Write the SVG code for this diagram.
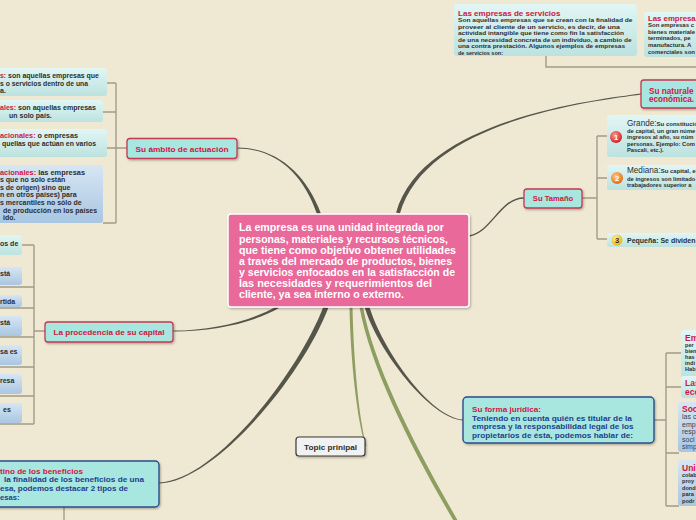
<svg xmlns="http://www.w3.org/2000/svg" width="696" height="520" viewBox="0 0 696 520">
<defs>
<linearGradient id="gc" x1="0" y1="0" x2="0" y2="1"><stop offset="0" stop-color="#e2f6f4"/><stop offset="1" stop-color="#bce2e0"/></linearGradient>
<linearGradient id="gb" x1="0" y1="0" x2="0" y2="1"><stop offset="0" stop-color="#d7e6f3"/><stop offset="1" stop-color="#a9c6e1"/></linearGradient>
<radialGradient id="i1" cx="0.4" cy="0.35" r="0.7"><stop offset="0" stop-color="#ff9a90"/><stop offset="1" stop-color="#d4141c"/></radialGradient>
<radialGradient id="i2" cx="0.4" cy="0.35" r="0.7"><stop offset="0" stop-color="#ffc98a"/><stop offset="1" stop-color="#e0670e"/></radialGradient>
<radialGradient id="i3" cx="0.4" cy="0.35" r="0.7"><stop offset="0" stop-color="#fff09a"/><stop offset="1" stop-color="#eeae00"/></radialGradient>
<filter id="sh" x="-10%" y="-20%" width="130%" height="150%"><feDropShadow dx="1" dy="1.2" stdDeviation="0.8" flood-color="#000" flood-opacity="0.3"/></filter>
</defs>
<style>
text{font-family:"Liberation Sans",Arial,sans-serif;font-weight:bold;fill:#2e2e2e}
.r{fill:#cf1541}
.b{fill:#1f3f8c}
.w{fill:#ffffff}
.n{font-weight:normal;fill:#3a4150}
.br{stroke:#a29c88;stroke-width:1.4;fill:none}
.cn{fill:#55554a}
.gr{fill:#8d9f60}
.main{fill:#a8e6e0;stroke:#c23a52;stroke-width:1.3}
.blu{fill:#a8e6e0;stroke:#2c4c8c;stroke-width:1.4}
.bc{fill:url(#gc)}
.bb{fill:url(#gb)}
</style>
<rect x="0" y="0" width="696" height="520" fill="#efe8d2"/>

<g id="connectors">
<path class="cn" d="M237,147.6 C275,147.6 305,171.4 320.9,213.4 L317.1,214.6 C303,172.6 275,148.6 237,148.6 Z"/>
<path class="cn" d="M173,330.6 C215,330.4 253,320 277,305.9 L279,308.1 C255,322 215,331.6 173,331.4 Z"/>
<path class="cn" d="M159,482.5 C215,480.3 298,373.5 323.7,306.1 L328.3,307.9 C302,376.5 215,481.7 159,483.5 Z"/>
<path class="gr" d="M349.5,307 C350.5,360 357,420 365.5,446 L366.5,446 C359,420 353.5,360 352.5,307 Z"/>
<path class="gr" d="M359.5,307 C371,372 418,462 468,545 L472,545 C423,462 375,372 363,307 Z"/>
<path class="cn" d="M463,419.6 C430,417.6 382.2,349.3 369.2,306.3 L364.8,307.7 C377.8,350.7 430,418.4 463,420.4 Z"/>
<path d="M524,198 C500,198 492,232 469,236" fill="none" stroke="#55554a" stroke-width="1.4"/>
<path class="cn" d="M641,93.5 C600,99.5 423.1,117.5 396.1,212.5 L399.9,213.5 C426.9,118.5 600,100.5 641,94.5 Z"/>
<path class="br" d="M116,83 V223 M107,83 H116 M103,112 H116 M107,148 H127 M103,223 H116"/>
<path class="br" d="M34,245 V424 M22,245 H34 M0,287 H34 M0,308 H34 M0,337 H34 M0,367 H34 M0,396 H34 M0,424 H34 M34,331 H45"/>
<path class="br" d="M64,507 V520"/>
<path class="br" d="M546,56 V67 H696"/>
<path class="br" d="M582,198 H597 M597,136 V239 M597,136 H607 M597,178 H607 M597,239 H607"/>
<path class="br" d="M654,420 H666 M666,353 V506 M666,353 H682 M666,387 H684 M666,453 H679 M666,506 H679"/>
</g>

<g id="center">
<rect x="228" y="214" width="241" height="93" rx="3" fill="#e9699a" stroke="#ffffff" stroke-width="1.5" filter="url(#sh)"/>
<text class="w" x="239" y="231" font-size="10" textLength="205" lengthAdjust="spacingAndGlyphs">La empresa es una unidad integrada por</text>
<text class="w" x="239" y="242.5" font-size="10" textLength="209" lengthAdjust="spacingAndGlyphs">personas, materiales y recursos técnicos,</text>
<text class="w" x="239" y="253.8" font-size="10" textLength="217" lengthAdjust="spacingAndGlyphs">que tiene como objetivo obtener utilidades</text>
<text class="w" x="239" y="265" font-size="10" textLength="213" lengthAdjust="spacingAndGlyphs">a través del mercado de productos, bienes</text>
<text class="w" x="239" y="276" font-size="10" textLength="216" lengthAdjust="spacingAndGlyphs">y servicios enfocados en la satisfacción de</text>
<text class="w" x="239" y="287" font-size="10" textLength="193" lengthAdjust="spacingAndGlyphs">las necesidades y requerimientos del</text>
<text class="w" x="239" y="298" font-size="10" textLength="165" lengthAdjust="spacingAndGlyphs">cliente, ya sea interno o externo.</text>
</g>

<g id="ambito">
<rect class="main" x="127" y="138.5" width="110" height="20" rx="3" filter="url(#sh)"/>
<text class="r" x="182" y="151.5" font-size="7.6" text-anchor="middle" textLength="93" lengthAdjust="spacingAndGlyphs">Su ámbito de  actuación</text>
</g>
<g id="ambito-1">
<rect class="bc" x="-6" y="68" width="113" height="28" rx="3"/>
<text x="0" y="78" font-size="7" textLength="99" lengthAdjust="spacingAndGlyphs"><tspan class="r">s:</tspan> son aquellas empresas que</text>
<text x="0" y="85.5" font-size="7" textLength="88" lengthAdjust="spacingAndGlyphs">s o servicios dentro de una</text>
<text x="0" y="92.5" font-size="7">a.</text>
</g>
<g id="ambito-2">
<rect class="bc" x="-6" y="100" width="109" height="22" rx="3"/>
<text x="0" y="109.5" font-size="7" textLength="96" lengthAdjust="spacingAndGlyphs"><tspan class="r">ales:</tspan> son aquellas empresas</text>
<text x="9" y="117.5" font-size="7">un solo país.</text>
</g>
<g id="ambito-3">
<rect class="bc" x="-6" y="129" width="113" height="28" rx="3"/>
<text x="0" y="137.5" font-size="7" textLength="78" lengthAdjust="spacingAndGlyphs"><tspan class="r">acionales:</tspan> o empresas</text>
<text x="2" y="145.5" font-size="7" textLength="94" lengthAdjust="spacingAndGlyphs">quellas que actúan en varios</text>
</g>
<g id="ambito-4">
<rect class="bb" x="-6" y="165" width="109" height="58" rx="3"/>
<text x="0" y="174.5" font-size="7" textLength="85" lengthAdjust="spacingAndGlyphs"><tspan class="r">acionales:</tspan> las empresas</text>
<text x="0" y="182" font-size="7">s que no solo están</text>
<text x="0" y="189.5" font-size="7">s de origen) sino que</text>
<text x="0" y="197" font-size="7">n en otros países) para</text>
<text x="0" y="205" font-size="7">s mercantiles no sólo de</text>
<text x="3" y="212.5" font-size="7">de producción en los países</text>
<text x="3" y="220" font-size="7">ido.</text>
</g>

<g id="procedencia">
<rect class="main" x="45" y="322" width="128" height="20" rx="3" filter="url(#sh)"/>
<text class="r" x="109" y="334.5" font-size="7.6" text-anchor="middle" textLength="111" lengthAdjust="spacingAndGlyphs">La procedencia de su capital</text>
</g>
<g id="proc-1"><rect class="bc" x="-6" y="235" width="28" height="20" rx="3"/><text x="0" y="245.5" font-size="7">os de</text></g>
<g id="proc-2"><rect class="bb" x="-6" y="267" width="28" height="18" rx="3"/><text x="0" y="275.5" font-size="7">stá</text></g>
<g id="proc-3"><rect class="bb" x="-6" y="295" width="28" height="12" rx="3"/><text x="0" y="304" font-size="7">rtida</text></g>
<g id="proc-4"><rect class="bb" x="-6" y="316" width="28" height="20" rx="3"/><text x="0" y="325" font-size="7">stá</text></g>
<g id="proc-5"><rect class="bb" x="-6" y="345" width="28" height="20" rx="3"/><text x="0" y="354" font-size="7">sa es</text></g>
<g id="proc-6"><rect class="bb" x="-6" y="374" width="28" height="20" rx="3"/><text x="0" y="383" font-size="7">resa</text></g>
<g id="proc-7"><rect class="bb" x="-6" y="403" width="28" height="20" rx="3"/><text x="3" y="411.5" font-size="7">es</text></g>

<g id="destino">
<rect class="blu" x="-6" y="461" width="165" height="46" rx="4" filter="url(#sh)"/>
<text class="r" x="0" y="473.5" font-size="7.6" textLength="83" lengthAdjust="spacingAndGlyphs">tino de los beneficios</text>
<text class="b" x="4" y="482" font-size="7.6" textLength="140" lengthAdjust="spacingAndGlyphs">la finalidad de los beneficios de una</text>
<text class="b" x="0" y="490.7" font-size="7.6" textLength="128" lengthAdjust="spacingAndGlyphs">esa, podemos destacar 2 tipos de</text>
<text class="b" x="0" y="499.5" font-size="7.6">esas:</text>
</g>

<g id="topic-prinipal">
<rect x="296" y="437" width="69" height="19" rx="3" fill="#f1f1f1" stroke="#3a3a3a" stroke-width="1.2" filter="url(#sh)"/>
<text x="330.5" y="449.5" font-size="7.6" text-anchor="middle" textLength="53" lengthAdjust="spacingAndGlyphs">Topic prinipal</text>
</g>

<g id="forma">
<rect class="blu" x="463" y="397" width="191" height="46" rx="4" filter="url(#sh)"/>
<text class="r" x="472" y="411.5" font-size="7.6" textLength="69" lengthAdjust="spacingAndGlyphs">Su forma jurídica:</text>
<text class="b" x="472" y="420.5" font-size="7.6" textLength="160" lengthAdjust="spacingAndGlyphs">Teniendo en cuenta quién es titular de la</text>
<text class="b" x="472" y="429.2" font-size="7.6" textLength="161.5" lengthAdjust="spacingAndGlyphs">empresa y la responsabilidad legal de los</text>
<text class="b" x="472" y="437.8" font-size="7.6" textLength="161" lengthAdjust="spacingAndGlyphs">propietarios de ésta, podemos hablar de:</text>
</g>
<g id="forma-1">
<rect class="bc" x="681" y="330" width="30" height="48" rx="3"/>
<text class="r" x="685" y="341" font-size="8.5">Em</text>
<text x="685" y="346.5" font-size="5.6">per</text>
<text x="685" y="352.5" font-size="5.6">bien</text>
<text x="685" y="358.5" font-size="5.6">has</text>
<text x="685" y="365" font-size="5.6">indi</text>
<text x="685" y="371" font-size="5.6">Hab</text>
</g>
<g id="forma-2">
<rect class="bc" x="681" y="376" width="30" height="22" rx="3"/>
<text class="r" x="685" y="386" font-size="8.5">Las</text>
<text class="r" x="685" y="394.5" font-size="8.5">eco</text>
</g>
<g id="forma-3">
<rect class="bb" x="678" y="402" width="30" height="50" rx="3"/>
<text class="r" x="682" y="411.5" font-size="8.5">Soc</text>
<text class="n" x="682" y="419" font-size="7">las c</text>
<text class="n" x="682" y="426.5" font-size="7">emp</text>
<text class="n" x="682" y="434" font-size="7">resp</text>
<text class="n" x="682" y="441.5" font-size="7">soci</text>
<text class="n" x="682" y="449" font-size="7">simp</text>
</g>
<g id="forma-4">
<rect class="bb" x="678" y="460" width="30" height="46" rx="3"/>
<text class="r" x="682" y="470.5" font-size="8.5">Unio</text>
<text x="682" y="477" font-size="5.6">colab</text>
<text x="682" y="483" font-size="5.6">proy</text>
<text x="682" y="489.5" font-size="5.6">dond</text>
<text x="682" y="495.5" font-size="5.6">para</text>
<text x="682" y="503" font-size="5.6">podr</text>
</g>

<g id="tamano">
<rect class="main" x="524" y="189" width="58" height="19" rx="3" filter="url(#sh)"/>
<text class="r" x="553" y="201.3" font-size="7.6" text-anchor="middle">Su Tamaño</text>
</g>
<g id="grande">
<rect class="bc" x="607" y="115" width="95" height="42" rx="3"/>
<circle cx="616" cy="137" r="6" fill="url(#i1)"/>
<text class="w" x="616" y="139.8" font-size="7.5" text-anchor="middle">1</text>
<text x="627" y="126" font-size="6"><tspan font-size="8.2" font-weight="normal">Grande:</tspan>Su constitución</text>
<text x="627" y="132.5" font-size="5.8">de capital, un gran núme</text>
<text x="627" y="139" font-size="5.8">ingresos al año, su núm</text>
<text x="627" y="145.5" font-size="5.8">personas. Ejemplo: Com</text>
<text x="627" y="152" font-size="5.8">Pascali, etc.).</text>
</g>
<g id="mediana">
<rect class="bc" x="607" y="165" width="95" height="25" rx="3"/>
<circle cx="617" cy="178" r="6" fill="url(#i2)"/>
<text class="w" x="617" y="180.8" font-size="7.5" text-anchor="middle">2</text>
<text x="627" y="173" font-size="6"><tspan font-size="8.2" font-weight="normal">Mediana:</tspan>Su capital, el</text>
<text x="627" y="180.5" font-size="5.8">de ingresos son limitado</text>
<text x="627" y="187" font-size="5.8">trabajadores superior a</text>
</g>
<g id="pequena">
<rect class="bc" x="607" y="233" width="95" height="14" rx="3"/>
<circle cx="617" cy="240" r="5.5" fill="url(#i3)"/>
<text x="617" y="242.8" font-size="7.5" text-anchor="middle">3</text>
<text x="627" y="243" font-size="7">Pequeña: Se dividen</text>
</g>

<g id="naturaleza">
<rect class="main" x="641" y="80" width="70" height="28" rx="3" filter="url(#sh)"/>
<text class="r" x="649" y="93.5" font-size="8.2">Su naturale</text>
<text class="r" x="649" y="102" font-size="8.2">económica.</text>
</g>
<g id="servicios">
<rect class="bc" x="454" y="4" width="183" height="52" rx="3"/>
<text class="r" x="458" y="16" font-size="7.8" textLength="102.5" lengthAdjust="spacingAndGlyphs">Las empresas de servicios</text>
<text x="458" y="22.3" font-size="6" textLength="174.5" lengthAdjust="spacingAndGlyphs">Son aquellas empresas que se crean con la finalidad de</text>
<text x="458" y="28.5" font-size="6" textLength="162" lengthAdjust="spacingAndGlyphs">proveer al cliente de un servicio, es decir, de una</text>
<text x="458" y="34.8" font-size="6" textLength="166" lengthAdjust="spacingAndGlyphs">actividad intangible que tiene como fin la satisfacción</text>
<text x="458" y="41.5" font-size="6" textLength="173.5" lengthAdjust="spacingAndGlyphs">de una necesidad concreta de un individuo, a cambio de</text>
<text x="458" y="47.5" font-size="6" textLength="167" lengthAdjust="spacingAndGlyphs">una contra prestación. Algunos ejemplos de empresas</text>
<text x="458" y="54.7" font-size="6" textLength="45" lengthAdjust="spacingAndGlyphs">de servicios son:</text>
</g>
<g id="industriales">
<rect class="bc" x="644" y="12" width="60" height="45" rx="3"/>
<text class="r" x="648" y="21" font-size="7.8">Las empresa</text>
<text x="648" y="27.3" font-size="6">Son empresas c</text>
<text x="648" y="33.6" font-size="6">bienes materiale</text>
<text x="648" y="40" font-size="6">terminados, pe</text>
<text x="648" y="46.5" font-size="6">manufactura. A</text>
<text x="648" y="53.5" font-size="6">comerciales son</text>
</g>
</svg>
